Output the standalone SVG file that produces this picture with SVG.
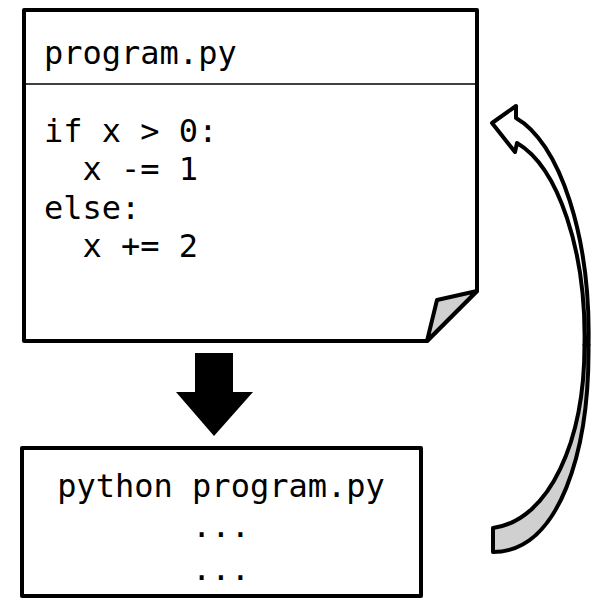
<svg xmlns="http://www.w3.org/2000/svg" width="592" height="598" viewBox="0 0 592 598">
<style>
.code{font-family:"DejaVu Sans Mono","Liberation Mono",monospace;font-size:32px;fill:#000}
.frame{fill:#fff;stroke:#000;stroke-width:4;stroke-linejoin:round}
.fold{fill:#d0d0d0;stroke:#000;stroke-width:4;stroke-linejoin:round}
</style>
<rect width="592" height="598" fill="#fff"/>
<g id="program-file">
<path class="frame" d="M24 10 H477 V291 L427 341 H24 Z"/>
<line x1="24" y1="84" x2="477" y2="84" stroke="#000" stroke-width="1.6"/>
<path class="fold" d="M477 291 L437 300 L427 341 Z"/>
<text class="code" x="44" y="63.5">program.py</text>
<text class="code" x="44" y="141.7">if x &gt; 0:</text>
<text class="code" x="44" y="180" xml:space="preserve">  x -= 1</text>
<text class="code" x="44" y="218.5">else:</text>
<text class="code" x="44" y="257" xml:space="preserve">  x += 2</text>
</g>
<g id="run-box">
<rect class="frame" x="22" y="448" width="399" height="148"/>
<text class="code" x="221" y="497" text-anchor="middle">python program.py</text>
<text class="code" x="221" y="537" text-anchor="middle">...</text>
<text class="code" x="221" y="580" text-anchor="middle">...</text>
</g>
<g id="connectors">
<path d="M195 353 H233 V392 H253 L214 436 L176 392 H195 Z" fill="#000"/>
<path class="fold" d="M584.5 345 C584.5 440 550 520 493 528 L493 552 C560 552 589.5 450 588.5 345 Z"/>
<path class="frame" d="M516 118 A95 222 0 0 1 588.5 345 L584.5 345 A91 200 0 0 0 517 143 L515 152 L492 123 L516 106 Z"/>
</g>
</svg>
